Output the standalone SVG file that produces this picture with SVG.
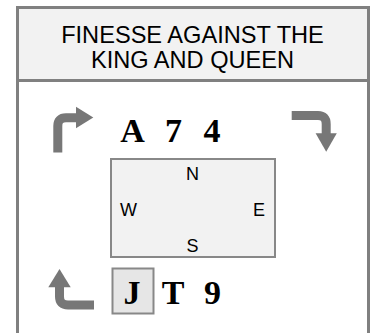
<svg xmlns="http://www.w3.org/2000/svg" width="374" height="333" viewBox="0 0 374 333">
<style>
.frame{fill:#ffffff;stroke:#808080;stroke-width:3}
.head{fill:#f2f2f2;stroke:#808080;stroke-width:3}
.title{font-family:"Liberation Sans",Arial,sans-serif;font-size:23.6px;fill:#000;text-anchor:middle}
.card{font-family:"Liberation Serif","Times New Roman",serif;font-weight:bold;font-size:34px;fill:#000;text-anchor:middle}
.dir{font-family:"Liberation Sans",Arial,sans-serif;font-size:18px;fill:#000}
.table{fill:#f2f2f2;stroke:#888888;stroke-width:2}
.jbox{fill:#e6e6e6;stroke:#888888;stroke-width:2}
.arr{fill:none;stroke:#777777;stroke-width:9}
.head-tri{fill:#777777}
</style>
<g id="frame">
<rect class="frame" x="17.5" y="7.5" width="351" height="340"/>
<rect class="head" x="17.5" y="7.5" width="351" height="73"/>
<text class="title" x="192.5" y="43">FINESSE AGAINST THE</text>
<text class="title" x="192.5" y="67.5">KING AND QUEEN</text>
</g>
<g id="north-hand">
<text class="card" x="132.5" y="141.5">A</text>
<text class="card" x="173.5" y="141.5">7</text>
<text class="card" x="212" y="141.5">4</text>
</g>
<g id="table">
<rect class="table" x="111" y="159" width="164" height="98"/>
<text class="dir" x="192.5" y="180" text-anchor="middle">N</text>
<text class="dir" x="120" y="216">W</text>
<text class="dir" x="265" y="216" text-anchor="end">E</text>
<text class="dir" x="192.5" y="252" text-anchor="middle">S</text>
</g>
<g id="south-hand">
<rect class="jbox" x="112.5" y="268.5" width="41" height="45"/>
<text class="card" x="132" y="303.5">J</text>
<text class="card" x="173" y="303.5">T</text>
<text class="card" x="212.5" y="303.5">9</text>
</g>
<g id="connectors">
<path class="arr" d="M57.8,152.5 V126 Q57.8,117.8 66,117.8 H77"/>
<polygon class="head-tri" points="76,106.7 93.3,117.5 76,128.3"/>
<path class="arr" d="M291.7,115.5 H318 Q326.2,115.5 326.2,124 V134"/>
<polygon class="head-tri" points="315.6,133.3 336.8,133.3 326.2,151.7"/>
<path class="arr" d="M94,305 H68 Q59.5,305 59.5,296.5 V286"/>
<polygon class="head-tri" points="48.3,287.3 70.7,287.3 59.5,269"/>
</g>
</svg>
